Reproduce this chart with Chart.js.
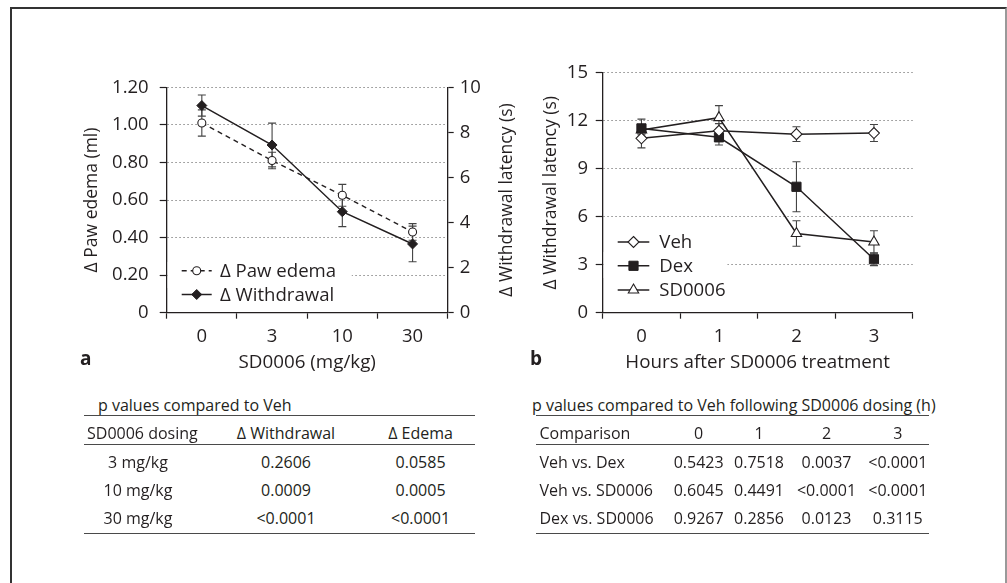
<!DOCTYPE html>
<html><head><meta charset="utf-8">
<script src="https://cdn.jsdelivr.net/npm/chart.js@4"></script>
<style>
html,body{margin:0;padding:0;background:#fff;}
body{width:1007px;height:583px;position:relative;overflow:hidden;font-family:'Open Sans',sans-serif;color:#231f20;}
#frame{position:absolute;left:10px;top:7px;width:997px;height:620px;border-top:2px solid #333;border-left:2px solid #333;border-right:2px solid #999;box-sizing:border-box;}
canvas{position:absolute;}
.t{position:absolute;white-space:nowrap;font-size:16px;line-height:1;}
.c{transform:translate(-50%,-50%);}
.l{transform:translate(0,-50%);}
.hl{position:absolute;height:0;border-top:1.6px solid #4a4a4a;}
.panel{position:absolute;font-weight:bold;font-size:19px;line-height:1;}
</style></head>
<body>
<div id="frame"></div>
<canvas id="cA" width="460" height="330" style="left:60px;top:50px"></canvas>
<canvas id="cB" width="440" height="330" style="left:520px;top:50px"></canvas>
<div class="panel" style="left:80px;top:349px">a</div>
<div class="panel" style="left:530px;top:349px">b</div>
<div id="tables"></div>
<script>
// ---- data: panel a ----
const doseLabels = ['0', '3', '10', '30'];
const pawEdema = [1.01, 0.81, 0.625, 0.43];
const pawEdemaErr = [0.07, 0.044, 0.058, 0.044];
const withdrawal = [9.19, 7.44, 4.48, 3.05];
const withdrawalErr = [0.47, 0.97, 0.66, 0.79];
const edemaTickLabels = ['0', '0.20', '0.40', '0.60', '0.80', '1.00', '1.20'];
const withdrawalTickLabels = ['0', '2', '4', '6', '8', '10'];

// ---- data: panel b ----
const hourLabels = ['0', '1', '2', '3'];
const veh = [10.9, 11.37, 11.16, 11.23];
const vehErr = [0.6, 0.45, 0.46, 0.53];
const dex = [11.52, 10.96, 7.87, 3.34];
const dexErr = [0.58, 0.48, 1.56, 0.4];
const sd0006 = [11.42, 12.19, 4.95, 4.42];
const sd0006Err = [0.3, 0.75, 0.8, 0.7];
const latencyTickLabels = ['0', '3', '6', '9', '12', '15'];

// ---- tables ----
const tableATitle = 'p values compared to Veh';
const tableAHeader = ['SD0006 dosing', 'Δ Withdrawal', 'Δ Edema'];
const tableARows = [
  ['3 mg/kg', '0.2606', '0.0585'],
  ['10 mg/kg', '0.0009', '0.0005'],
  ['30 mg/kg', '<0.0001', '<0.0001']
];
const tableBTitle = 'p values compared to Veh following SD0006 dosing (h)';
const tableBHeader = ['Comparison', '0', '1', '2', '3'];
const tableBRows = [
  ['Veh vs. Dex', '0.5423', '0.7518', '0.0037', '<0.0001'],
  ['Veh vs. SD0006', '0.6045', '0.4491', '<0.0001', '<0.0001'],
  ['Dex vs. SD0006', '0.9267', '0.2856', '0.0123', '0.3115']
];

const INK = '#231f20';
const FONT = "'Open Sans', sans-serif";
const GRID = '#8a8a8a';

function marker(ctx, style, x, y, r, fill, stroke, bw) {
  ctx.save();
  ctx.fillStyle = fill; ctx.strokeStyle = stroke; ctx.lineWidth = bw; ctx.setLineDash([]);
  ctx.beginPath();
  if (style === 'circle') {
    ctx.arc(x, y, r, 0, Math.PI * 2);
  } else if (style === 'rectRot') {
    ctx.moveTo(x, y - r); ctx.lineTo(x + r, y); ctx.lineTo(x, y + r); ctx.lineTo(x - r, y);
  } else if (style === 'rect') {
    const s = r * Math.SQRT1_2;
    ctx.rect(x - s, y - s, 2 * s, 2 * s);
  } else if (style === 'triangle') {
    for (let k = 0; k < 3; k++) {
      const a = -Math.PI / 2 + k * 2 * Math.PI / 3;
      const px = x + Math.cos(a) * r, py = y + Math.sin(a) * r;
      if (k === 0) ctx.moveTo(px, py); else ctx.lineTo(px, py);
    }
  }
  ctx.closePath(); ctx.fill(); ctx.stroke();
  ctx.restore();
}

const errorBars = {
  id: 'errorBars',
  beforeDatasetsDraw(chart, args, opts) {
    const ctx = chart.ctx;
    chart.data.datasets.forEach((ds, i) => {
      if (!ds.errors) return;
      const meta = chart.getDatasetMeta(i);
      const ys = chart.scales[ds.yAxisID || 'y'];
      ctx.save();
      ctx.strokeStyle = opts.color || '#444';
      ctx.lineWidth = 1.1;
      meta.data.forEach((pt, j) => {
        const v = ds.data[j], e = ds.errors[j];
        const x = pt.x;
        const y1 = ys.getPixelForValue(v + e), y2 = ys.getPixelForValue(v - e);
        ctx.beginPath();
        ctx.moveTo(x, y1); ctx.lineTo(x, y2);
        ctx.moveTo(x - 4, y1); ctx.lineTo(x + 4, y1);
        ctx.moveTo(x - 4, y2); ctx.lineTo(x + 4, y2);
        ctx.stroke();
      });
      ctx.restore();
    });
  }
};

const innerLegend = {
  id: 'innerLegend',
  beforeDatasetsDraw(chart, args, opts) {
    const ctx = chart.ctx, ca = chart.chartArea;
    ctx.save();
    ctx.fillStyle = '#fff';
    ctx.fillRect(ca.left + 1, opts.cover[0], opts.coverRight - ca.left - 1, opts.cover[1] - opts.cover[0]);
    ctx.restore();
  },
  afterDatasetsDraw(chart, args, opts) {
    const ctx = chart.ctx;
    chart.data.datasets.forEach((ds, i) => {
      const y = opts.rows[i];
      ctx.save();
      ctx.strokeStyle = ds.borderColor; ctx.lineWidth = ds.borderWidth;
      ctx.setLineDash(ds.borderDash || []);
      ctx.beginPath(); ctx.moveTo(opts.x0, y); ctx.lineTo(opts.x1, y); ctx.stroke();
      ctx.restore();
      marker(ctx, ds.pointStyle, (opts.x0 + opts.x1) / 2, y, ds.pointRadius, ds.pointBackgroundColor, ds.pointBorderColor, ds.pointBorderWidth);
      ctx.save();
      ctx.fillStyle = INK; ctx.font = opts.font; ctx.textBaseline = 'middle'; ctx.textAlign = 'left';
      ctx.fillText(ds.label, opts.tx, y + 1);
      ctx.restore();
    });
  }
};

const rightTitle = {
  id: 'rightTitle',
  afterDraw(chart, args, opts) {
    if (!opts.text) return;
    const ctx = chart.ctx, ca = chart.chartArea;
    ctx.save();
    ctx.translate(opts.x, (ca.top + ca.bottom) / 2);
    ctx.rotate(-Math.PI / 2);
    ctx.fillStyle = INK; ctx.font = opts.font; ctx.textAlign = 'center'; ctx.textBaseline = 'middle';
    ctx.fillText(opts.text, 0, 0);
    ctx.restore();
  }
};

const tickFont = {family: FONT, size: 18.5};
const xTitleFont = {family: FONT, size: 18.8};
const yTitleFont = {family: FONT, size: 17.5};
const LEGEND_FONT = '18.6px ' + FONT;

// ---- chart a ----
new Chart(document.getElementById('cA'), {
  type: 'line',
  data: {
    labels: doseLabels,
    datasets: [
      {label: 'Δ Paw edema', data: pawEdema, errors: pawEdemaErr, yAxisID: 'y',
       borderColor: INK, borderWidth: 1.4, borderDash: [5, 4], tension: 0, fill: false,
       pointStyle: 'circle', pointRadius: 4, pointBackgroundColor: '#fff', pointBorderColor: INK, pointBorderWidth: 1.1},
      {label: 'Δ Withdrawal', data: withdrawal, errors: withdrawalErr, yAxisID: 'y2',
       borderColor: INK, borderWidth: 1.5, tension: 0, fill: false,
       pointStyle: 'rectRot', pointRadius: 5, pointBackgroundColor: INK, pointBorderColor: INK, pointBorderWidth: 1}
    ]
  },
  options: {
    responsive: false, animation: false, events: [],
    layout: {padding: {top: 37.3, right: 0, bottom: 0, left: 0}},
    plugins: {
      legend: {display: false}, tooltip: {enabled: false},
      errorBars: {color: '#444'},
      innerLegend: {rows: [220.7, 244.5], x0: 121.7, x1: 151.7, tx: 160, font: LEGEND_FONT, cover: [212, 238], coverRight: 291.7},
      rightTitle: {text: 'Δ Withdrawal latency (s)', x: 447, font: '17.5px ' + FONT}
    },
    scales: {
      x: {
        type: 'category', offset: true,
        grid: {offset: true, drawOnChartArea: false, drawTicks: true, tickLength: 6, tickColor: INK, tickWidth: 1.2},
        border: {color: INK, width: 1.3},
        ticks: {font: tickFont, color: INK, padding: 6.5, maxRotation: 0},
        title: {display: true, text: 'SD0006 (mg/kg)', font: xTitleFont, color: INK, padding: {top: 0, bottom: 6.2}},
        afterFit(s) { s.height = 67.3; }
      },
      y: {
        position: 'left', min: 0, max: 1.2,
        ticks: {stepSize: 0.2, font: tickFont, color: INK, padding: 11, callback: (v, i) => edemaTickLabels[i]},
        grid: {color: (c) => (c.tick && c.tick.value === 0) ? 'rgba(0,0,0,0)' : GRID, lineWidth: 1, tickColor: INK, tickLength: 7, tickWidth: 1.2},
        border: {color: INK, width: 1.3, dash: [1.5, 2.5]},
        title: {display: true, text: 'Δ Paw edema (ml)', font: yTitleFont, color: INK, padding: {top: 21.3, bottom: 0}},
        afterFit(s) { s.width = 106.7; }
      },
      y2: {
        position: 'right', min: 0, max: 10,
        ticks: {stepSize: 2, font: tickFont, color: INK, padding: 6, callback: (v, i) => withdrawalTickLabels[i]},
        grid: {drawOnChartArea: false, tickColor: INK, tickLength: 6, tickWidth: 1.2},
        border: {color: INK, width: 1.3},
        afterFit(s) { s.width = 72.3; }
      }
    }
  },
  plugins: [errorBars, innerLegend, rightTitle]
});

// ---- chart b ----
new Chart(document.getElementById('cB'), {
  type: 'line',
  data: {
    labels: hourLabels,
    datasets: [
      {label: 'Veh', data: veh, errors: vehErr, yAxisID: 'y',
       borderColor: INK, borderWidth: 1.5, tension: 0, fill: false,
       pointStyle: 'rectRot', pointRadius: 5.5, pointBackgroundColor: '#fff', pointBorderColor: INK, pointBorderWidth: 1.1},
      {label: 'Dex', data: dex, errors: dexErr, yAxisID: 'y',
       borderColor: INK, borderWidth: 1.5, tension: 0, fill: false,
       pointStyle: 'rect', pointRadius: 6.5, pointBackgroundColor: INK, pointBorderColor: INK, pointBorderWidth: 1},
      {label: 'SD0006', data: sd0006, errors: sd0006Err, yAxisID: 'y',
       borderColor: INK, borderWidth: 1.5, tension: 0, fill: false,
       pointStyle: 'triangle', pointRadius: 6, pointBackgroundColor: '#fff', pointBorderColor: INK, pointBorderWidth: 1.1}
    ]
  },
  options: {
    responsive: false, animation: false, events: [],
    layout: {padding: {top: 22.7, right: 47.3, bottom: 0, left: 0}},
    plugins: {
      legend: {display: false}, tooltip: {enabled: false},
      errorBars: {color: '#444'},
      innerLegend: {rows: [192, 215.8, 240], x0: 97.7, x1: 129.3, tx: 139.3, font: LEGEND_FONT, cover: [202, 228], coverRight: 207.3}
    },
    scales: {
      x: {
        type: 'category', offset: true,
        grid: {offset: true, drawOnChartArea: false, drawTicks: true, tickLength: 6, tickColor: INK, tickWidth: 1.2},
        border: {color: INK, width: 1.3},
        ticks: {font: tickFont, color: INK, padding: 6.5, maxRotation: 0},
        title: {display: true, text: 'Hours after SD0006 treatment', font: xTitleFont, color: INK, padding: {top: 0, bottom: 6.2}},
        afterFit(s) { s.height = 67.3; }
      },
      y: {
        position: 'left', min: 0, max: 15,
        ticks: {stepSize: 3, font: tickFont, color: INK, padding: 7.7, callback: (v, i) => latencyTickLabels[i]},
        grid: {color: (c) => (c.tick && c.tick.value === 0) ? 'rgba(0,0,0,0)' : GRID, lineWidth: 1, tickColor: INK, tickLength: 7, tickWidth: 1.2},
        border: {color: INK, width: 1.3, dash: [1.5, 2.5]},
        title: {display: true, text: 'Δ Withdrawal latency (s)', font: yTitleFont, color: INK, padding: {top: 20.5, bottom: 0}},
        afterFit(s) { s.width = 82.7; }
      }
    }
  },
  plugins: [errorBars, innerLegend]
});

// ---- tables (HTML text) ----
const host = document.getElementById('tables');
function txt(s, x, y, cls) {
  const d = document.createElement('div');
  d.className = 't ' + cls; d.textContent = s;
  d.style.left = x + 'px'; d.style.top = y + 'px';
  host.appendChild(d);
}
function hline(x0, x1, y) {
  const d = document.createElement('div');
  d.className = 'hl'; d.style.left = x0 + 'px'; d.style.width = (x1 - x0) + 'px'; d.style.top = (y - 0.8) + 'px';
  host.appendChild(d);
}
// table a
txt(tableATitle, 98, 404.5, 'l');
hline(83.5, 475.2, 416);
txt(tableAHeader[0], 87, 433, 'l');
txt(tableAHeader[1], 286, 433, 'c');
txt(tableAHeader[2], 420.6, 433, 'c');
hline(83.5, 475.2, 445);
const rowY = [461.7, 490, 518.3];
const colA = [138, 286, 420.6];
tableARows.forEach((r, i) => r.forEach((s, j) => txt(s, colA[j], rowY[i], 'c')));
hline(83.5, 475.2, 533.3);
// table b
txt(tableBTitle, 532, 404.5, 'l');
hline(536, 929, 416);
txt(tableBHeader[0], 539.5, 433, 'l');
const colB = [698.7, 759, 826.5, 897.8];
for (let j = 1; j < 5; j++) txt(tableBHeader[j], colB[j - 1], 433, 'c');
hline(536, 929, 445);
tableBRows.forEach((r, i) => {
  txt(r[0], 539.5, rowY[i], 'l');
  for (let j = 1; j < 5; j++) txt(r[j], colB[j - 1], rowY[i], 'c');
});
hline(536, 929, 533.3);
</script>
</body></html>
